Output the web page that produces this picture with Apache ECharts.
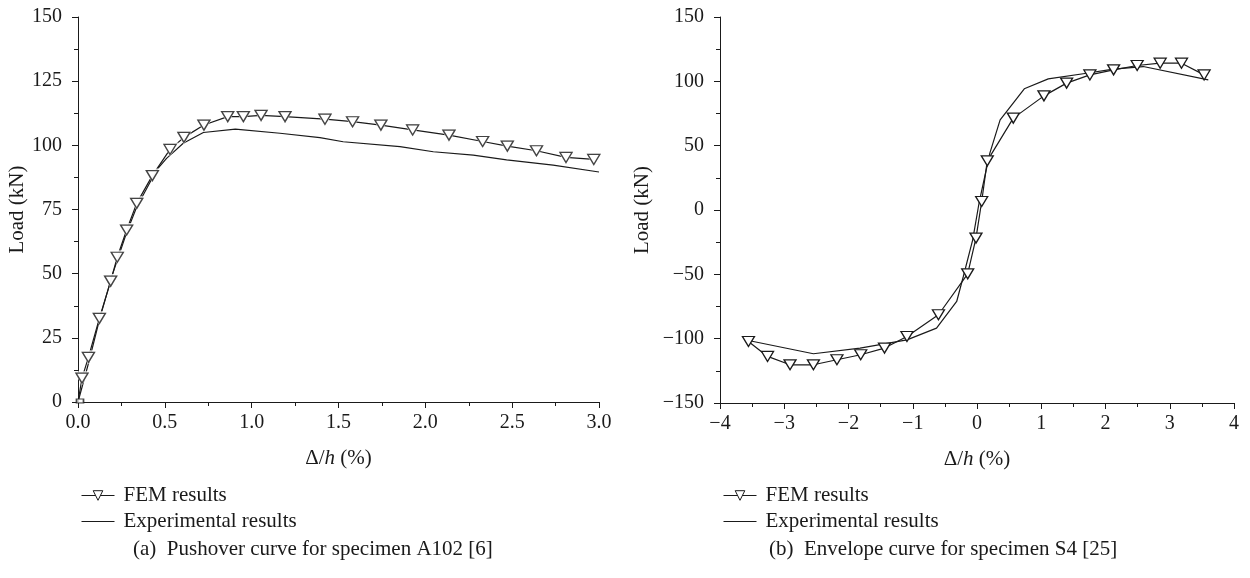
<!DOCTYPE html>
<html>
<head>
<meta charset="utf-8">
<script src="https://cdn.jsdelivr.net/npm/echarts@6/dist/echarts.min.js"></script>
<style>html,body{margin:0;padding:0;background:#fff}#c{width:1250px;height:578px}</style>
</head>
<body>
<div id="c"></div>
<script>
// (a) Pushover curve, specimen A102: [drift %, load kN]
const femA = [[0,0],[0.023,9.3],[0.06,17.4],[0.123,32.6],[0.188,47.1],[0.226,56.4],[0.28,67],[0.338,77.4],[0.428,88.2],[0.53,98.4],[0.61,103.1],[0.725,107.9],[0.862,111.2],[0.952,111.2],[1.054,111.7],[1.192,111.2],[1.422,110.2],[1.581,109.2],[1.744,107.9],[1.927,106],[2.136,104],[2.33,101.5],[2.472,99.7],[2.64,97.9],[2.81,95.3],[2.97,94.5]];
const expA = [[0,0],[0.06,15],[0.127,33],[0.2,50],[0.28,66],[0.338,76],[0.453,90.4],[0.51,94.9],[0.606,100.8],[0.722,105],[0.906,106.3],[1.163,104.7],[1.393,103],[1.527,101.4],[1.854,99.5],[2.046,97.5],[2.276,96.2],[2.468,94.3],[2.736,92.3],[3.0,89.6]];
// (b) Envelope curve, specimen S4
const femB = [[-3.557,-102.2],[-3.26,-113.8],[-2.91,-120.3],[-2.546,-120.3],[-2.18,-116.4],[-1.81,-112.5],[-1.44,-107.3],[-1.09,-98.3],[-0.6,-81.4],[-0.145,-49.6],[-0.016,-21.8],[0.073,6.6],[0.16,38.2],[0.565,71.4],[1.042,88.7],[1.395,98.6],[1.757,105],[2.126,108.9],[2.493,112.3],[2.851,114.1],[3.183,114.1],[3.535,105]];
const expB = [[-3.557,-101.4],[-2.546,-111.7],[-1.82,-107.3],[-1.09,-100.9],[-0.63,-91.8],[-0.316,-71.1],[-0.213,-51.7],[-0.067,-23.2],[0.036,6.6],[0.2,44.2],[0.36,70.1],[0.736,94.2],[1.109,101.9],[1.706,106.3],[2.12,109.5],[2.587,111.5],[3.6,101.2]];
const seriesNames = ['FEM results','Experimental results'];
const captions = ['(a)  Pushover curve for specimen A102 [6]','(b)  Envelope curve for specimen S4 [25]'];
const yTitle = 'Load (kN)';

const FONT = 'Liberation Serif';
const FS = 21;
const TFS = 20;
const black = '#1a1a1a';
const fmtMinus = v => String(v).replace('-', '\u2212');

function xAxis(gi, min, max, interval, fmt) {
  return {
    type: 'value', gridIndex: gi, min, max, interval,
    name: '{a|\u0394/}{i|h}{a| (%)}', nameLocation: 'middle', nameGap: 46,
    nameTextStyle: { rich: { a: {fontFamily: FONT, fontSize: FS, color: black}, i: {fontFamily: FONT, fontSize: FS, fontStyle: 'italic', color: black} } },
    axisLine: { onZero: false, lineStyle: { color: black, width: 1 } },
    axisTick: { show: true, inside: false, length: 6, lineStyle: { color: black } },
    minorTick: { show: true, splitNumber: 2, length: 4, lineStyle: { color: black } },
    axisLabel: { fontFamily: FONT, fontSize: TFS, color: black, margin: 11, formatter: fmt },
    splitLine: { show: false }
  };
}
function yAxis(gi, min, max, interval, gap) {
  return {
    type: 'value', gridIndex: gi, min, max, interval,
    name: yTitle, nameLocation: 'middle', nameGap: gap,
    nameTextStyle: { fontFamily: FONT, fontSize: FS, color: black },
    axisLine: { show: true, onZero: false, lineStyle: { color: black, width: 1 } },
    axisTick: { show: true, inside: false, length: 6, lineStyle: { color: black } },
    minorTick: { show: true, splitNumber: 2, length: 4, lineStyle: { color: black } },
    axisLabel: { fontFamily: FONT, fontSize: TFS, color: black, margin: 16, formatter: fmtMinus },
    splitLine: { show: false }
  };
}
const tri = { symbol: 'triangle', symbolRotate: 180, symbolSize: [12, 10] };
function legend(left) {
  return {
    orient: 'vertical', left, top: 480, itemWidth: 33, itemHeight: 12, itemGap: 5,
    data: [
      { name: seriesNames[0], itemStyle: { color: '#fff', borderColor: black, borderWidth: 1 } },
      { name: seriesNames[1], icon: 'path://M0,0 L33,0 L33,1.2 L0,1.2 Z' }
    ],
    lineStyle: { width: 1, color: black },
    selectedMode: false,
    textStyle: { fontFamily: FONT, fontSize: FS, color: black, padding: [0,0,0,4] }
  };
}
function caption(left, text) {
  return { text, left, top: 534, textStyle: { fontFamily: FONT, fontSize: FS, fontWeight: 'normal', color: black } };
}

const option = {
  animation: false,
  backgroundColor: '#fff',
  title: [caption(128, captions[0]), caption(764, captions[1])],
  legend: [legend(76), legend(718)],
  grid: [
    { left: 78, top: 17, width: 521, height: 385 },
    { left: 720, top: 17, width: 514, height: 386 }
  ],
  xAxis: [
    xAxis(0, 0, 3, 0.5, v => v.toFixed(1)),
    xAxis(1, -4, 4, 1, fmtMinus)
  ],
  yAxis: [
    yAxis(0, 0, 150, 25, 50),
    yAxis(1, -150, 150, 50, 67)
  ],
  series: [
    { name: seriesNames[1], type: 'line', xAxisIndex: 0, yAxisIndex: 0, data: expA, showSymbol: false, symbol: 'none',
      lineStyle: { color: black, width: 1.2 }, itemStyle: { color: black } },
    { name: seriesNames[0], type: 'line', xAxisIndex: 0, yAxisIndex: 0,
      data: femA.map((p, i) => i === 0 ? { value: p, symbol: 'none' } : p), ...tri, showSymbol: true,
      lineStyle: { color: black, width: 1.2 }, itemStyle: { color: '#fff', borderColor: black, borderWidth: 1.3 }, z: 2 },
    { type: 'scatter', xAxisIndex: 0, yAxisIndex: 0, data: femA.slice(1), symbol: 'triangle', symbolRotate: 180, symbolSize: [17, 14],
      itemStyle: { color: '#fff' }, z: 3, silent: true },
    { type: 'scatter', xAxisIndex: 0, yAxisIndex: 0, data: femA.slice(1), ...tri,
      itemStyle: { color: '#fff', borderColor: black, borderWidth: 1.3 }, z: 4, silent: true },
    { type: 'scatter', xAxisIndex: 0, yAxisIndex: 0, data: femA.slice(0,1), symbol: 'rect', symbolSize: [7, 4], symbolOffset: [2, -1],
      itemStyle: { color: '#fff', borderColor: black, borderWidth: 1.3 }, z: 4, silent: true },
    { name: seriesNames[1], type: 'line', xAxisIndex: 1, yAxisIndex: 1, data: expB, showSymbol: false, symbol: 'none',
      lineStyle: { color: black, width: 1.2 }, itemStyle: { color: black } },
    { name: seriesNames[0], type: 'line', xAxisIndex: 1, yAxisIndex: 1, data: femB, ...tri, showSymbol: true,
      lineStyle: { color: black, width: 1.2 }, itemStyle: { color: '#fff', borderColor: black, borderWidth: 1.3 } }
  ]
};
const chart = echarts.init(document.getElementById('c'), null, { renderer: 'canvas' });
chart.setOption(option);
</script>
</body>
</html>
